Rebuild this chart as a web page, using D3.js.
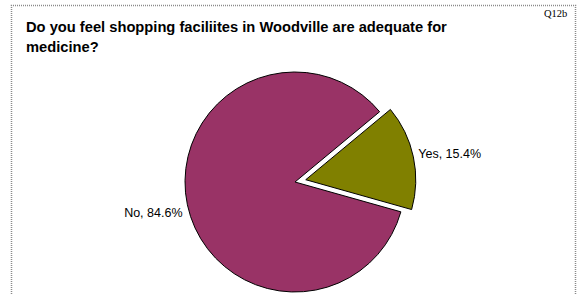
<!DOCTYPE html>
<html lang="en">
  <head>
    <meta charset="UTF-8" />
    <title>Q12b Shopping facilities for medicine</title>
    <script src="https://d3js.org/d3.v7.min.js"></script>
    <style>
      body {
        margin: 0;
        background: #ffffff;
        font-family: Arial, "Liberation Sans", sans-serif;
      }
      .title {
        font-size: 14.7px;
        font-weight: bold;
        fill: #000;
      }
      .slice-label {
        font-size: 12.5px;
        fill: #000;
      }
      .qref {
        font-family: "Liberation Serif", "Times New Roman", serif;
        font-size: 10.5px;
      }
    </style>
  </head>
  <body>
    <div id="chart"></div>
    <script>
      // Data
      const categories = ["Yes", "No"];
      const percents = [15.4, 84.6];
      const colors = ["#808000", "#993366"];
      const exploded = [true, false];
      const titleLines = [
        "Do you feel shopping faciliites in Woodville are adequate for",
        "medicine?",
      ];

      const width = 579,
        height = 294;
      const cx = 295,
        cy = 182,
        radius = 110,
        explodeBy = 11;

      const svg = d3
        .select("#chart")
        .append("svg")
        .attr("width", width)
        .attr("height", height);

      // dotted frame (left, top, right)
      svg
        .append("path")
        .attr("d", `M11.5,${height}V5.5H575.5V${height}`)
        .attr("fill", "none")
        .attr("stroke", "#8a8a8a")
        .attr("stroke-width", 1.5)
        .attr("stroke-dasharray", "1,1");

      svg
        .append("text")
        .attr("class", "qref")
        .attr("x", 544)
        .attr("y", 17)
        .text("Q12b");

      svg
        .append("g")
        .selectAll("text")
        .data(titleLines)
        .join("text")
        .attr("class", "title")
        .attr("x", 26)
        .attr("y", (d, i) => 32 + i * 20)
        .text((d) => d);

      const data = categories.map((c, i) => ({
        name: c,
        value: percents[i],
        color: colors[i],
        exploded: exploded[i],
      }));

      // Yes slice starts a little past 1 o'clock, slices run clockwise
      const pie = d3
        .pie()
        .sort(null)
        .value((d) => d.value)
        .startAngle((50.3 * Math.PI) / 180)
        .endAngle((50.3 * Math.PI) / 180 + 2 * Math.PI);

      const arc = d3.arc().innerRadius(0).outerRadius(radius);

      const g = svg.append("g").attr("transform", `translate(${cx},${cy})`);

      const arcs = pie(data);

      function shift(d) {
        const a = (d.startAngle + d.endAngle) / 2;
        const k = d.data.exploded ? explodeBy : 0;
        return [Math.sin(a) * k, -Math.cos(a) * k];
      }

      g.selectAll("path")
        .data(arcs)
        .join("path")
        .attr("d", arc)
        .attr("transform", (d) => `translate(${shift(d)})`)
        .attr("fill", (d) => d.data.color)
        .attr("stroke", "#000")
        .attr("stroke-width", 1);

      // labels just outside the slice edge
      const labelR = radius + 5;
      g.selectAll("text")
        .data(arcs)
        .join("text")
        .attr("class", "slice-label")
        .attr("x", (d) => {
          const a = (d.startAngle + d.endAngle) / 2;
          return shift(d)[0] + Math.sin(a) * labelR;
        })
        .attr("y", (d) => {
          const a = (d.startAngle + d.endAngle) / 2;
          return shift(d)[1] - Math.cos(a) * labelR;
        })
        .attr("dy", (d) => (d.data.name === "No" ? "0.9em" : "0.2em"))
        .attr("text-anchor", (d) =>
          Math.sin((d.startAngle + d.endAngle) / 2) > 0 ? "start" : "end"
        )
        .text((d) => `${d.data.name}, ${d.data.value.toFixed(1)}%`);
    </script>
  </body>
</html>
